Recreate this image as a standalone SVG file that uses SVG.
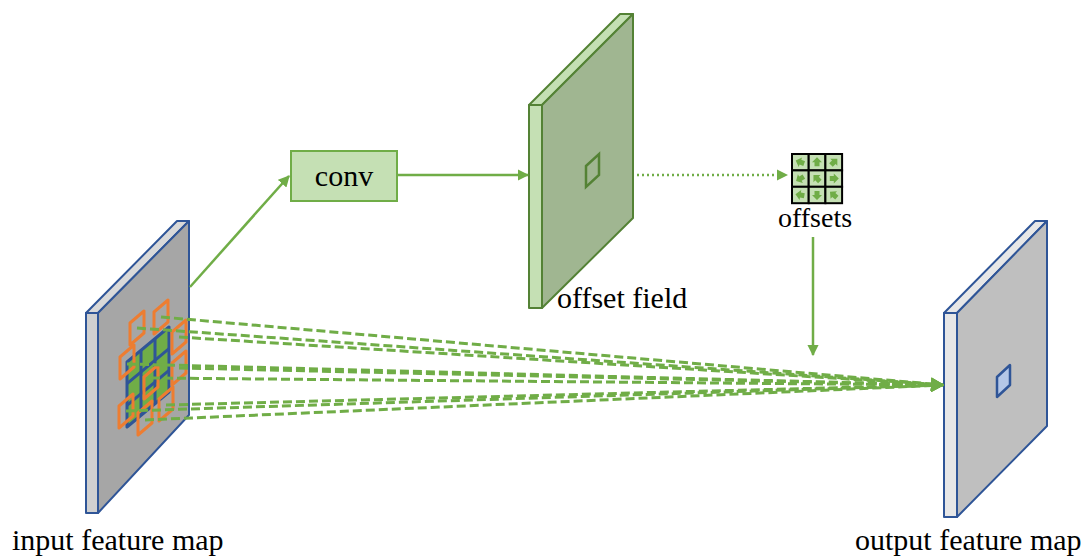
<svg xmlns="http://www.w3.org/2000/svg" width="1085" height="557" viewBox="0 0 1085 557">
  <defs>
    <style>
      .lbl { font-family: "Liberation Serif", "Times New Roman", serif; font-size: 30px; fill: #000; }
      .blue { stroke: #2f5597; stroke-width: 2; stroke-linejoin: round; }
      .grn { stroke: #548235; stroke-width: 2; stroke-linejoin: round; }
      .link { fill: none; stroke: #70ad47; stroke-width: 2.5; }
      .dash { fill: none; stroke: #70ad47; stroke-width: 3; stroke-dasharray: 9 4; }
      .orange { fill: none; stroke: #ed7d31; stroke-width: 3; stroke-linejoin: round; }
      .cell { fill: #c5e0b4; stroke: #000; stroke-width: 2; }
      .tip { fill: #70ad47; }
    </style>
    <marker id="head" viewBox="0 0 10 10" refX="9" refY="5" markerWidth="4.6" markerHeight="4.6" orient="auto" markerUnits="strokeWidth">
      <path d="M0,0 L10,5 L0,10 Z" fill="#70ad47"/>
    </marker>
    <marker id="headDash" viewBox="0 0 10 10" refX="9" refY="5" markerWidth="4.5" markerHeight="4.5" orient="auto" markerUnits="strokeWidth">
      <path d="M0,0 L10,5 L0,10 Z" fill="#70ad47"/>
    </marker>
    <path id="orangeCell" d="M-7,-5 L7,-17 L7,5 L-7,17 Z"/>
    <path id="tinyArrow" d="M-4,-2.5 L0,-2.5 L0,-5 L5,0 L0,5 L0,2.5 L-4,2.5 Z"/>
  </defs>

  <!-- input feature map slab -->
  <g id="input-map">
    <path d="M86,313 L177,221 L189,221 L98,313 Z" fill="#d9d9d9" class="blue"/>
    <rect x="86" y="313" width="12" height="200" fill="#d0d0d0" class="blue"/>
    <path d="M98,313 L189,221 L189,415 L98,513 Z" fill="#a6a6a6" class="blue"/>
    <!-- regular 3x3 sampling grid -->
    <g stroke="#2f5597" stroke-width="3" stroke-linejoin="round">
      <path d="M127,362 L169,327 L169,392 L127,427 Z" fill="#70ad47"/>
      <path d="M141,350.3 L141,415.3 M155,338.7 L155,403.7" fill="none"/>
      <path d="M127,383.7 L169,348.7 M127,405.3 L169,370.3" fill="none"/>
    </g>
    <!-- deformed sampling locations -->
    <g class="orange">
      <use href="#orangeCell" x="137" y="328"/>
      <use href="#orangeCell" x="161" y="317"/>
      <use href="#orangeCell" x="179" y="337"/>
      <use href="#orangeCell" x="127" y="362"/>
      <use href="#orangeCell" x="151" y="382"/>
      <use href="#orangeCell" x="179" y="368"/>
      <use href="#orangeCell" x="126" y="411"/>
      <use href="#orangeCell" x="145" y="418"/>
      <use href="#orangeCell" x="166" y="404"/>
    </g>
  </g>

  <!-- conv block -->
  <g id="conv">
    <rect x="291" y="151" width="106" height="50" fill="#c5e0b4" stroke="#70ad47" stroke-width="2"/>
    <text class="lbl" x="344" y="186" text-anchor="middle">conv</text>
  </g>

  <!-- offset field slab -->
  <g id="offset-field">
    <path d="M529,105 L620,14 L633,14 L542,105 Z" fill="#c5e0b4" class="grn"/>
    <rect x="529" y="105" width="13" height="203" fill="#c5e0b4" class="grn"/>
    <path d="M542,105 L633,14 L633,218 L542,308 Z" fill="#a0b691" class="grn"/>
    <path d="M586,166 L599,154 L599,175 L586,187 Z" fill="none" stroke="#548235" stroke-width="2.5"/>
    <text class="lbl" x="557" y="308">offset field</text>
  </g>

  <!-- learned offsets -->
  <g id="offsets">
    <rect class="cell" x="792" y="154" width="16.7" height="16.4"/>
    <rect class="cell" x="808.7" y="154" width="16.7" height="16.4"/>
    <rect class="cell" x="825.4" y="154" width="16.7" height="16.4"/>
    <rect class="cell" x="792" y="170.4" width="16.7" height="16.4"/>
    <rect class="cell" x="808.7" y="170.4" width="16.7" height="16.4"/>
    <rect class="cell" x="825.4" y="170.4" width="16.7" height="16.4"/>
    <rect class="cell" x="792" y="186.8" width="16.7" height="16.4"/>
    <rect class="cell" x="808.7" y="186.8" width="16.7" height="16.4"/>
    <rect class="cell" x="825.4" y="186.8" width="16.7" height="16.4"/>
    <g class="tip">
      <use href="#tinyArrow" transform="translate(800.4,162.2) rotate(200)"/>
      <use href="#tinyArrow" transform="translate(817,162.2) rotate(-90)"/>
      <use href="#tinyArrow" transform="translate(833.8,162.2) rotate(-45)"/>
      <use href="#tinyArrow" transform="translate(800.4,178.6) rotate(150)"/>
      <use href="#tinyArrow" transform="translate(817,178.6) rotate(-135)"/>
      <use href="#tinyArrow" transform="translate(833.8,178.6) rotate(0)"/>
      <use href="#tinyArrow" transform="translate(800.4,195) rotate(190)"/>
      <use href="#tinyArrow" transform="translate(817,195) rotate(90)"/>
      <use href="#tinyArrow" transform="translate(833.8,195) rotate(-140)"/>
    </g>
    <text class="lbl" x="815" y="227" text-anchor="middle" style="font-size:28px">offsets</text>
  </g>

  <!-- output feature map slab -->
  <g id="output-map">
    <path d="M944,313 L1035,221 L1047,221 L957,313 Z" fill="#e7e7e7" class="blue"/>
    <rect x="944" y="313" width="13" height="204" fill="#e7e7e7" class="blue"/>
    <path d="M957,313 L1047,221 L1047,426 L957,517 Z" fill="#bfbfbf" class="blue"/>
    <path d="M997,377 L1010,365 L1010,385 L997,397 Z" fill="#b4c7e7" stroke="#2f5597" stroke-width="2.5" stroke-linejoin="round"/>
  </g>

  <!-- connectors -->
  <g id="connectors">
    <path class="link" d="M190,287 L289,176" marker-end="url(#head)"/>
    <path class="link" d="M397,175 L528,175" marker-end="url(#head)"/>
    <path class="link" d="M637,175 L787,175" stroke-dasharray="2 3" marker-end="url(#head)"/>
    <path class="link" d="M813,237 L813,355" marker-end="url(#head)"/>
    <path class="dash" d="M161,317 L943,385" marker-end="url(#headDash)"/>
    <path class="dash" d="M137,328 L943,385" marker-end="url(#headDash)"/>
    <path class="dash" d="M179,337 L943,385" marker-end="url(#headDash)"/>
    <path class="dash" d="M127,364 L943,385" marker-end="url(#headDash)"/>
    <path class="dash" d="M179,368 L943,385" marker-end="url(#headDash)"/>
    <path class="dash" d="M151,378 L943,385" marker-end="url(#headDash)"/>
    <path class="dash" d="M166,405 L943,385" marker-end="url(#headDash)"/>
    <path class="dash" d="M126,411 L943,385" marker-end="url(#headDash)"/>
    <path class="dash" d="M145,420 L943,385" marker-end="url(#headDash)"/>
  </g>

  <!-- captions -->
  <text class="lbl" x="12" y="550">input feature map</text>
  <text class="lbl" x="855" y="550">output feature map</text>
</svg>
